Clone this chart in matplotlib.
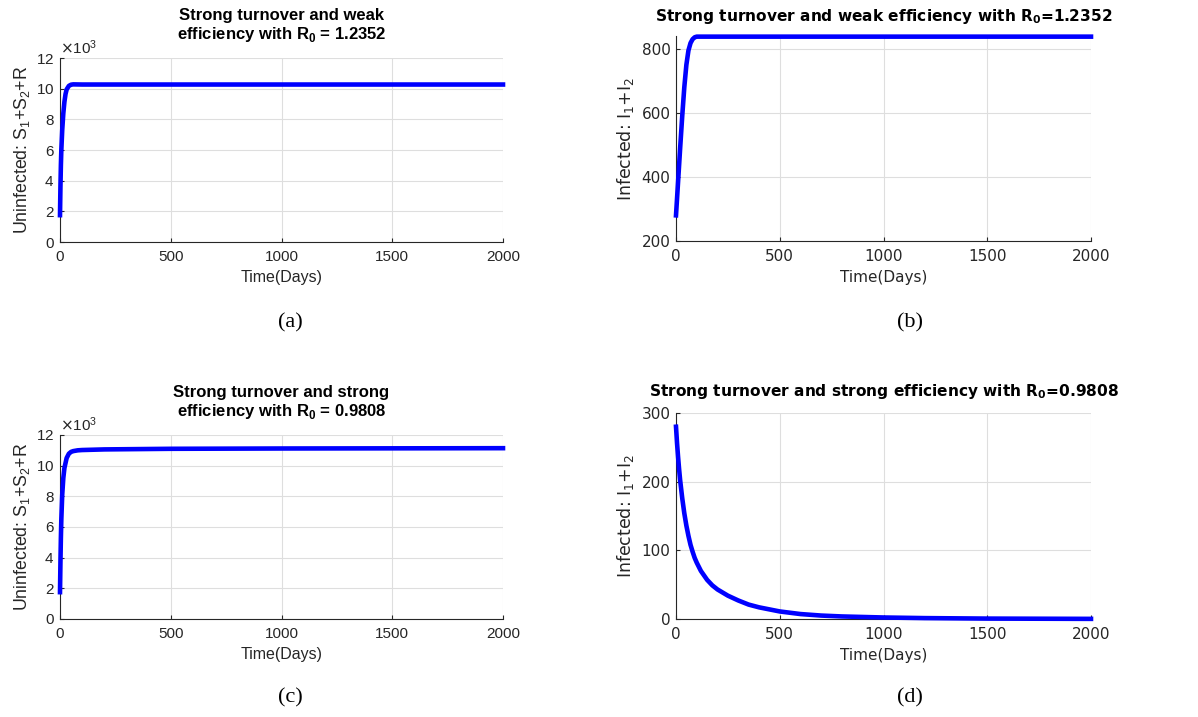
import numpy as np
import matplotlib.pyplot as plt
from matplotlib.ticker import ScalarFormatter

# (a) strong turnover, weak efficiency: uninfected S1+S2+R
t_a = [0, 2, 4, 6, 10, 15, 20, 25, 30, 40, 50, 60, 80, 100, 500, 1000, 2000]
u_a = [1750, 3600, 5000, 6000, 7300, 8400, 9150, 9650, 9950, 10180, 10260, 10280, 10275, 10270, 10270, 10270, 10270]

# (b) strong turnover, weak efficiency: infected I1+I2
t_b = [0, 10, 20, 30, 40, 50, 60, 70, 80, 90, 100, 120, 500, 1000, 2000]
i_b = [280, 385, 490, 590, 680, 750, 795, 818, 830, 836, 838, 838, 838, 838, 838]

# (c) strong turnover, strong efficiency: uninfected
t_c = [0, 2, 4, 6, 10, 15, 20, 30, 40, 50, 60, 80, 100, 200, 500, 1000, 1500, 2000]
u_c = [1750, 3700, 5300, 6500, 8100, 9200, 9850, 10500, 10780, 10900, 10950, 11000, 11020, 11060, 11100, 11120, 11130, 11140]

# (d) strong turnover, strong efficiency: infected
t_d = [0, 5, 10, 15, 20, 30, 40, 50, 60, 70, 80, 90, 100, 120, 150, 175, 200, 250, 300,
       350, 400, 500, 600, 700, 800, 1000, 1200, 1500, 2000]
i_d = [280, 256, 236, 218, 202, 176, 154, 136, 121, 108, 98, 89, 82, 70, 57, 49, 43, 34, 27,
       21, 17, 11, 7.2, 5, 3.7, 2.2, 1.3, 0.6, 0.2]

W, H = 1198, 717
fig = plt.figure(figsize=(W / 100, H / 100), dpi=100)

GRAY = "#262626"
BLUE = (0, 0, 1)


def px_axes(left, right, top, bottom):
    return fig.add_axes([left / W, 1 - bottom / H, (right - left) / W, (bottom - top) / H])


def style(ax, family):
    for s in ["top", "right"]:
        ax.spines[s].set_visible(False)
    for s in ["left", "bottom"]:
        ax.spines[s].set_color(GRAY)
        ax.spines[s].set_linewidth(0.8)
    ax.grid(True, color="#dedede", linewidth=0.8)
    ax.set_axisbelow(True)
    ax.tick_params(direction="in", length=3, width=0.8, colors=GRAY, labelsize=11, pad=6)
    for lab in ax.get_xticklabels() + ax.get_yticklabels():
        lab.set_family(family)
    ax.set_xlim(0, 2000)
    ax.set_xticks([0, 500, 1000, 1500, 2000])


def curve(ax, t, v):
    ax.plot(t, v, color=BLUE, lw=3.3, clip_on=False, zorder=5)


# left panels (Helvetica-like)
LF = "Liberation Sans"
for top, bottom, t, u, title in [
    (58, 242, t_a, u_a, "Strong turnover and weak\nefficiency with R$_{\\mathregular{0}}$ = 1.2352"),
    (435, 619, t_c, u_c, "Strong turnover and strong\nefficiency with R$_{\\mathregular{0}}$ = 0.9808"),
]:
    ax = px_axes(60, 503, top, bottom)
    curve(ax, t, u)
    ax.set_ylim(0, 12000)
    ax.set_yticks(range(0, 12001, 2000))
    fmt = ScalarFormatter(useMathText=True)
    fmt.set_powerlimits((3, 3))
    ax.yaxis.set_major_formatter(fmt)
    style(ax, LF)
    ax.tick_params(axis="y", pad=4)
    ax.yaxis.get_offset_text().set_family(LF)
    ax.yaxis.get_offset_text().set_fontsize(11)
    ax.yaxis.get_offset_text().set_color(GRAY)
    ax.set_title(title, family=LF, fontweight="bold", fontsize=12, pad=14, color="black",
                 linespacing=1.1)
    ax.set_xlabel("Time(Days)", family=LF, fontsize=11.5, color=GRAY, labelpad=4)
    ax.set_ylabel("Uninfected: S$_{\\mathregular{1}}$+S$_{\\mathregular{2}}$+R",
                  family=LF, fontsize=12.8, color=GRAY, labelpad=3)

# right panels (DejaVu)
DF = "DejaVu Sans"
for top, bottom, t, v, ylim, yt, title, pad in [
    (36, 241, t_b, i_b, (200, 840), [200, 400, 600, 800],
     "Strong turnover and weak efficiency with R$_{\\mathregular{0}}$=1.2352", 11),
    (413, 619, t_d, i_d, (0, 300), [0, 100, 200, 300],
     "Strong turnover and strong efficiency with R$_{\\mathregular{0}}$=0.9808", 12),
]:
    ax = px_axes(676, 1091, top, bottom)
    curve(ax, t, v)
    ax.set_ylim(*ylim)
    ax.set_yticks(yt)
    style(ax, DF)
    ax.tick_params(axis="y", pad=4)
    ax.set_title(title, family=DF, fontweight="bold", fontsize=11.1, pad=pad, color="black")
    ax.set_xlabel("Time(Days)", family=DF, fontsize=11, color=GRAY, labelpad=4)
    ax.set_ylabel("Infected: I$_{\\mathregular{1}}$+I$_{\\mathregular{2}}$", family=DF,
                  fontsize=12.5, color=GRAY, labelpad=4)

# panel captions
for x, y, s in [(290, 323, "(a)"), (910, 323, "(b)"), (290, 698, "(c)"), (910, 698, "(d)")]:
    fig.text(x / W, 1 - y / H, s, family="Liberation Serif", fontsize=16,
             ha="center", va="center")

fig.savefig("out.png", dpi=100)
